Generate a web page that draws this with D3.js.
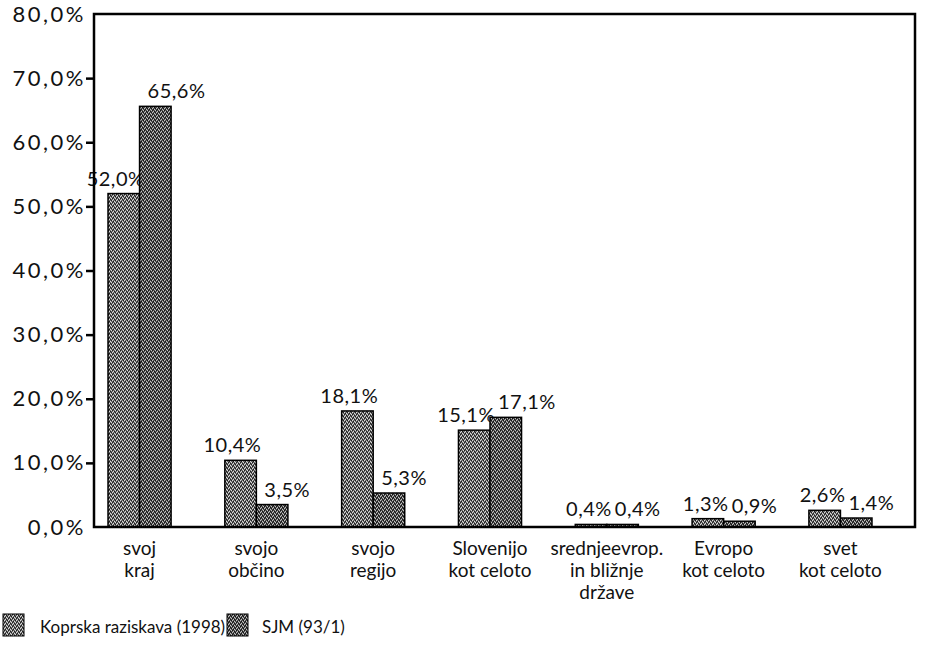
<!DOCTYPE html>
<html><head><meta charset="utf-8">
<script src="https://cdn.jsdelivr.net/npm/d3@7"></script>
<style>body{margin:0;background:#fff}svg{display:block}</style>
</head><body><svg id="c" width="925" height="649"></svg>
<script>
// ---- data ----
const categories = [
  ["svoj", "kraj"],
  ["svojo", "občino"],
  ["svojo", "regijo"],
  ["Slovenijo", "kot celoto"],
  ["srednjeevrop.", "in bližnje", "države"],
  ["Evropo", "kot celoto"],
  ["svet", "kot celoto"]
];
const seriesNames = ["Koprska raziskava (1998)", "SJM (93/1)"];
const koprska = [52.0, 10.4, 18.1, 15.1, 0.4, 1.3, 2.6];
const sjm = [65.6, 3.5, 5.3, 17.1, 0.4, 0.9, 1.4];
const yTicks = [0, 10, 20, 30, 40, 50, 60, 70, 80];

// ---- layout ----
const svg = d3.select("#c");
const frame = {left: 94, right: 915, top: 14, bottom: 527};
const font = "Lato, 'Open Sans', sans-serif";
const fmt = v => v.toFixed(1).replace(".", ",") + "%";

const y = d3.scaleLinear().domain([0, 80]).range([frame.bottom, frame.top]);
const x = d3.scaleBand().domain(d3.range(categories.length))
  .range([frame.left, 886]).paddingInner(0.46).paddingOuter(0.12);
const x1 = d3.scaleBand().domain([0, 1]).range([0, x.bandwidth()]);

// textured fills
const defs = svg.append("defs");
function makePattern(id, base, light, dark) {
  const p = defs.append("pattern").attr("id", id).attr("patternUnits", "userSpaceOnUse")
    .attr("width", 4).attr("height", 4);
  p.append("rect").attr("width", 4).attr("height", 4).attr("fill", base);
  [[0,0],[2,1],[1,3],[3,2]].forEach(([a,b]) => p.append("rect").attr("x", a).attr("y", b).attr("width", 1).attr("height", 1).attr("fill", light));
  [[1,1],[3,0],[0,2],[2,3]].forEach(([a,b]) => p.append("rect").attr("x", a).attr("y", b).attr("width", 1).attr("height", 1).attr("fill", dark));
}
makePattern("p0", "#6c6c6c", "#dcdcdc", "#1a1a1a");
makePattern("p1", "#525252", "#c4c4c4", "#101010");

// y axis
const yAxis = d3.axisLeft(y).tickValues(yTicks).tickSize(8).tickPadding(0).tickFormat(fmt);
const gy = svg.append("g").attr("transform", `translate(${frame.left},0)`).call(yAxis);
gy.select(".domain").remove();
gy.selectAll(".tick line").attr("stroke", "#000").attr("stroke-width", 2.5)
  .attr("opacity", d => (d === 0 || d === 80) ? 0 : 1);
gy.selectAll(".tick text").attr("font-family", font).attr("font-size", 22)
  .attr("letter-spacing", 2.5).attr("fill", "#111");

// bars + labels, series by series
const series = [koprska, sjm];
series.forEach((vals, si) => {
  const g = svg.append("g");
  g.selectAll("rect").data(vals).join("rect")
    .attr("x", (d, i) => x(i) + x1(si))
    .attr("y", d => y(d))
    .attr("width", x1.bandwidth())
    .attr("height", d => y(0) - y(d))
    .attr("fill", `url(#p${si})`)
    .attr("stroke", "#000").attr("stroke-width", 1.5);
  g.selectAll("text").data(vals).join("text")
    .attr("x", (d, i) => x(i) + x1(1) + (si === 0 ? 5 : 8))
    .attr("y", d => y(d) - 8)
    .attr("text-anchor", si === 0 ? "end" : "start")
    .attr("font-family", font).attr("font-size", 20).attr("letter-spacing", 0.5).attr("fill", "#111")
    .text(fmt);
});

// frame
svg.append("rect").attr("x", frame.left).attr("y", frame.top)
  .attr("width", frame.right - frame.left).attr("height", frame.bottom - frame.top)
  .attr("fill", "none").attr("stroke", "#000").attr("stroke-width", 2.5);

// category labels
const cl = svg.append("g").selectAll("text").data(categories).join("text")
  .attr("text-anchor", "middle").attr("font-family", font).attr("font-size", 19).attr("fill", "#111");
cl.each(function(lines, i) {
  d3.select(this).selectAll("tspan").data(lines).join("tspan")
    .attr("x", x(i) + x.bandwidth() / 2)
    .attr("y", (d, k) => 555 + k * 22)
    .text(d => d);
});

// legend
const lg = svg.append("g");
const legX = [3, 227];
const legTextX = [40, 262];
seriesNames.forEach((n, si) => {
  lg.append("rect").attr("x", legX[si]).attr("y", 614).attr("width", 21).attr("height", 22)
    .attr("fill", `url(#p${si})`).attr("stroke", "#000").attr("stroke-width", 1);
  lg.append("text").attr("x", legTextX[si]).attr("y", 633)
    .attr("font-family", font).attr("font-size", 17).attr("fill", "#111").text(n);
});
</script>
</body></html>
